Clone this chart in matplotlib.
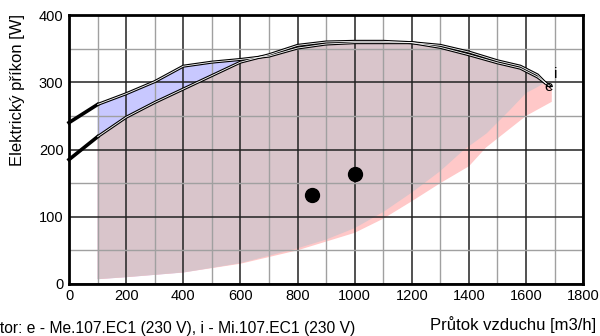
import numpy as np
import matplotlib
matplotlib.use("Agg")
import matplotlib.pyplot as plt
from matplotlib.patches import Polygon

plt.rcParams['font.family'] = ['Liberation Sans', 'DejaVu Sans']

# Data - e (Me.107.EC1), upper curve and lower limit
e_top_x = [100, 200, 300, 400, 500, 600, 700, 800, 900, 1000, 1100, 1200, 1300, 1400, 1500, 1580, 1640, 1670]
e_top_y = [267, 283, 301, 324, 330, 334, 339, 351, 357, 359, 359, 359, 355, 345, 332, 324, 311, 298]
e_bot_x = [1660, 1640, 1600, 1544, 1462, 1381, 1300, 1200, 1100, 1000, 900, 800, 600, 400, 200, 100]
e_bot_y = [298, 293, 284, 259, 224, 199, 168, 136, 107, 83, 66, 53, 31, 17, 10, 7]

# Data - i (Mi.107.EC1)
i_top_x = [100, 200, 300, 400, 500, 600, 700, 800, 900, 1000, 1100, 1200, 1300, 1400, 1500, 1580, 1640, 1690]
i_top_y = [219, 248, 270, 290, 310, 330, 341, 355, 360, 361, 361, 359, 352, 341, 329, 321, 308, 292]
i_bot_x = [1690, 1690, 1600, 1460, 1400, 1300, 1200, 1100, 1000, 800, 600, 400, 200, 100]
i_bot_y = [292, 271, 250, 203, 175, 150, 123, 97, 76, 50, 30, 17, 10, 7]

# extension lines to zero flow
e_ext_x = [0, 100]
e_ext_y = [240, 267]
i_ext_x = [0, 100]
i_ext_y = [185, 219]

# operating points
pts_x = [850, 1000]
pts_y = [133, 163]

fig = plt.figure(figsize=(6, 3.36), dpi=100)
ax = fig.add_axes([0.115, 0.155, 0.857, 0.8])

blue = '#c8c8ff'
pink = '#ffc8c8'
mauve = '#d9c5cb'

e_poly = Polygon(list(zip(e_top_x + e_bot_x, e_top_y + e_bot_y)), closed=True,
                 facecolor=blue, edgecolor='none', zorder=1)
i_poly = Polygon(list(zip(i_top_x + i_bot_x, i_top_y + i_bot_y)), closed=True,
                 facecolor=pink, edgecolor='none', zorder=1)
ax.add_patch(e_poly)
ax.add_patch(i_poly)
# overlap of both regions
ov = Polygon(list(zip(i_top_x + i_bot_x, i_top_y + i_bot_y)), closed=True,
             facecolor=mauve, edgecolor='none', zorder=1.5)
ax.add_patch(ov)
ov.set_clip_path(e_poly)

# grid
ax.set_xlim(0, 1800)
ax.set_ylim(0, 400)
ax.set_xticks(range(0, 1801, 200))
ax.set_yticks(range(0, 401, 100))
ax.set_xticks(range(100, 1800, 200), minor=True)
ax.set_yticks(range(50, 400, 100), minor=True)
ax.grid(which='major', color='#222222', lw=1.1, zorder=2)
ax.grid(which='minor', color='#a0a0a0', lw=1.0, zorder=2)
ax.set_axisbelow(False)
ax.tick_params(which='both', length=0, labelsize=10.5, pad=4)

# curves (double line)
for xs, ys in [(e_top_x, e_top_y), (i_top_x, i_top_y)]:
    ax.plot(xs, ys, color='black', lw=2.2, zorder=3, solid_capstyle='butt')
    ax.plot(xs, ys, color='white', lw=0.6, zorder=3.1)
ax.plot(e_ext_x, e_ext_y, color='black', lw=2.6, zorder=3, clip_on=False)
ax.plot(i_ext_x, i_ext_y, color='black', lw=2.6, zorder=3, clip_on=False)

ax.plot(pts_x, pts_y, 'o', color='black', ms=10, zorder=4)

ax.text(1678, 293, 'e', fontsize=11, ha='center', va='center', zorder=5)
ax.text(1705, 312, 'i', fontsize=11, ha='center', va='center', zorder=5)

for s in ax.spines.values():
    s.set_linewidth(2)
    s.set_zorder(6)

fig.text(18 / 600, 1 - 14 / 336, 'Elektrický příkon [W]', fontsize=12, rotation=90,
         ha='center', va='top')
fig.text(596 / 600, 0.035, 'Průtok vzduchu [m3/h]', fontsize=12, ha='right', va='center')
fig.text(355 / 600, 0.022, 'Ventilátor: e - Me.107.EC1 (230 V), i - Mi.107.EC1 (230 V)',
         fontsize=11.25, ha='right', va='center')

fig.savefig('out.png', dpi=100)
